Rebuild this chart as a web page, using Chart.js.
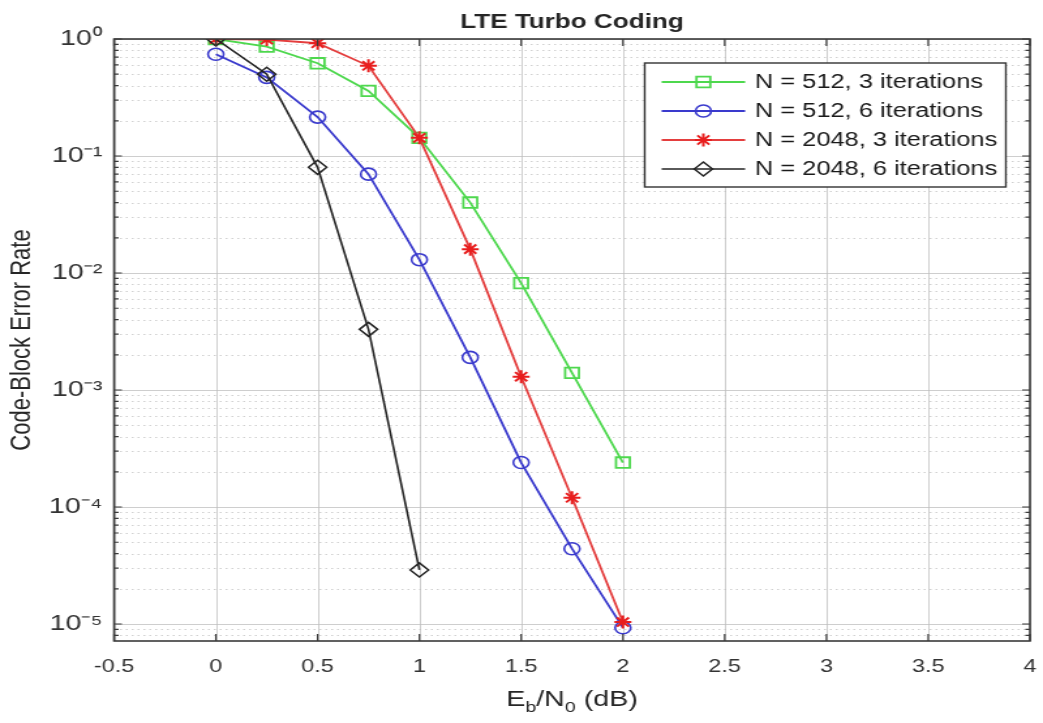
<!DOCTYPE html>
<html>
<head>
<meta charset="utf-8">
<script src="https://cdn.jsdelivr.net/npm/chart.js@4.4.1/dist/chart.umd.min.js"></script>
<style>
  html, body { margin: 0; padding: 0; background: #ffffff; }
  #c { display: block; width: 1043px; height: 723px; }
</style>
</head>
<body>
<canvas id="c" width="800" height="723" style="width:1043px;height:723px;"></canvas>
<script>
// ---- data ----
const ebn0 = [0, 0.25, 0.5, 0.75, 1, 1.25, 1.5, 1.75, 2];
const ebn0Short = [0, 0.25, 0.5, 0.75, 1];
const n512it3 = [1.0, 0.86, 0.62, 0.36, 0.143, 0.040, 0.0082, 0.0014, 0.00024];
const n512it6 = [0.74, 0.47, 0.215, 0.070, 0.013, 0.0019, 0.00024, 0.000044, 0.0000093];
const n2048it3 = [1.0, 0.99, 0.92, 0.59, 0.143, 0.016, 0.0013, 0.00012, 0.0000104];
const n2048it6 = [1.0, 0.50, 0.080, 0.0033, 0.000029];
const seriesLabels = ['N = 512, 3 iterations', 'N = 512, 6 iterations', 'N = 2048, 3 iterations', 'N = 2048, 6 iterations'];
const xTickValues = [-0.5, 0, 0.5, 1, 1.5, 2, 2.5, 3, 3.5, 4];
const xTickLabels = ['-0.5', '0', '0.5', '1', '1.5', '2', '2.5', '3', '3.5', '4'];
const yTickValues = [1e-5, 1e-4, 1e-3, 1e-2, 1e-1, 1];
const yTickLabels = ['10\u207B\u2075', '10\u207B\u2074', '10\u207B\u00B3', '10\u207B\u00B2', '10\u207B\u00B9', '10\u2070'];
const chartTitle = 'LTE Turbo Coding';
const yAxisTitle = 'Code-Block Error Rate';

const FONT = '"Liberation Sans", Arial, Helvetica, sans-serif';

function pts(xs, ys) { return xs.map((x, i) => ({ x: x, y: ys[i] })); }

const colGreen = 'rgb(78,216,78)';
const colBlue = 'rgb(58,58,205)';
const colRed = 'rgb(228,62,62)';
const colBlack = 'rgb(35,35,35)';

function drawMarker(ctx, style, r, x, y, color, bw) {
  ctx.save();
  ctx.strokeStyle = color;
  ctx.lineWidth = bw;
  if (Chart.helpers && Chart.helpers.drawPoint) {
    ctx.fillStyle = 'rgba(0,0,0,0)';
    Chart.helpers.drawPoint(ctx, { pointStyle: style, radius: r, rotation: 0, borderWidth: bw }, x, y);
  } else {
    ctx.beginPath();
    if (style === 'circle') ctx.arc(x, y, r, 0, Math.PI * 2);
    else if (style === 'rect') { const s = r * Math.SQRT1_2; ctx.rect(x - s, y - s, 2 * s, 2 * s); }
    else if (style === 'rectRot') { ctx.moveTo(x - r, y); ctx.lineTo(x, y - r); ctx.lineTo(x + r, y); ctx.lineTo(x, y + r); ctx.closePath(); }
    else if (style === 'star') {
      for (let k = 0; k < 4; k++) { const a = k * Math.PI / 4; ctx.moveTo(x - Math.cos(a) * r, y - Math.sin(a) * r); ctx.lineTo(x + Math.cos(a) * r, y + Math.sin(a) * r); }
    }
    ctx.stroke();
  }
  ctx.restore();
}

const decorPlugin = {
  id: 'decor',
  beforeDatasetsDraw(chart) {
    const ctx = chart.ctx;
    const a = chart.chartArea;
    const xs = chart.scales.x, ys = chart.scales.y;
    ctx.save();
    ctx.fillStyle = '#ffffff';
    ctx.fillRect(a.left, a.top, a.right - a.left, a.bottom - a.top);
    // minor horizontal grid (dotted)
    ctx.strokeStyle = 'rgba(150,150,150,0.45)';
    ctx.lineWidth = 1;
    ctx.setLineDash([1.5, 3]);
    for (let e = -6; e <= 0; e++) {
      for (let m = 2; m <= 9; m++) {
        const v = m * Math.pow(10, e);
        if (v < ys.min || v > ys.max) continue;
        const py = Math.round(ys.getPixelForValue(v)) + 0.5;
        ctx.beginPath(); ctx.moveTo(a.left, py); ctx.lineTo(a.right, py); ctx.stroke();
      }
    }
    ctx.setLineDash([]);
    // major grid
    ctx.strokeStyle = 'rgba(190,190,190,0.75)';
    ctx.lineWidth = 1;
    yTickValues.forEach(v => {
      const py = Math.round(ys.getPixelForValue(v)) + 0.5;
      ctx.beginPath(); ctx.moveTo(a.left, py); ctx.lineTo(a.right, py); ctx.stroke();
    });
    xTickValues.forEach(v => {
      const px = Math.round(xs.getPixelForValue(v)) + 0.5;
      ctx.beginPath(); ctx.moveTo(px, a.top); ctx.lineTo(px, a.bottom); ctx.stroke();
    });
    ctx.restore();
  },
  afterDatasetsDraw(chart) {
    const ctx = chart.ctx;
    const a = chart.chartArea;
    const xs = chart.scales.x, ys = chart.scales.y;
    ctx.save();
    // axes box
    ctx.strokeStyle = '#3a3a3a';
    ctx.lineWidth = 1.6;
    ctx.strokeRect(a.left, a.top, a.right - a.left, a.bottom - a.top);
    // tick marks (inward)
    ctx.lineWidth = 1.2;
    xTickValues.forEach(v => {
      const px = xs.getPixelForValue(v);
      ctx.beginPath(); ctx.moveTo(px, a.bottom); ctx.lineTo(px, a.bottom - 7);
      ctx.moveTo(px, a.top); ctx.lineTo(px, a.top + 7); ctx.stroke();
    });
    yTickValues.forEach(v => {
      const py = ys.getPixelForValue(v);
      ctx.beginPath(); ctx.moveTo(a.left, py); ctx.lineTo(a.left + 6, py);
      ctx.moveTo(a.right, py); ctx.lineTo(a.right - 6, py); ctx.stroke();
    });
    for (let e = -6; e <= 0; e++) {
      for (let m = 2; m <= 9; m++) {
        const v = m * Math.pow(10, e);
        if (v < ys.min || v > ys.max) continue;
        const py = ys.getPixelForValue(v);
        ctx.beginPath(); ctx.moveTo(a.left, py); ctx.lineTo(a.left + 3.5, py);
        ctx.moveTo(a.right, py); ctx.lineTo(a.right - 3.5, py); ctx.stroke();
      }
    }
    // title
    const cx = (a.left + a.right) / 2;
    ctx.fillStyle = '#262626';
    ctx.font = 'bold 20px ' + FONT;
    ctx.textAlign = 'center';
    ctx.textBaseline = 'alphabetic';
    ctx.fillText(chartTitle, cx, 28);
    // x-axis title with subscripts
    const bigFont = '22px ' + FONT;
    const subFont = '15px ' + FONT;
    const parts = [
      { t: 'E', f: bigFont, dy: 0 },
      { t: 'b', f: subFont, dy: 6 },
      { t: '/N', f: bigFont, dy: 0 },
      { t: '0', f: subFont, dy: 6 },
      { t: ' (dB)', f: bigFont, dy: 0 }
    ];
    let total = 0;
    parts.forEach(p => { ctx.font = p.f; p.w = ctx.measureText(p.t).width; total += p.w; });
    let px = cx - total / 2;
    ctx.textAlign = 'left';
    parts.forEach(p => { ctx.font = p.f; ctx.fillText(p.t, px, 706 + p.dy); px += p.w; });
    // y-axis title
    ctx.save();
    ctx.translate(17, (a.top + a.bottom) / 2);
    ctx.rotate(-Math.PI / 2);
    ctx.font = '22px ' + FONT;
    ctx.textAlign = 'center';
    ctx.textBaseline = 'middle';
    ctx.fillText(yAxisTitle, 0, 0);
    ctx.restore();
    // legend
    const bx0 = 494.5, bx1 = 771.5, by0 = 63, by1 = 187;
    ctx.fillStyle = '#ffffff';
    ctx.fillRect(bx0, by0, bx1 - bx0, by1 - by0);
    ctx.strokeStyle = '#333333';
    ctx.lineWidth = 1.4;
    ctx.strokeRect(bx0, by0, bx1 - bx0, by1 - by0);
    const rows = [82, 111, 140, 169];
    chart.data.datasets.forEach((ds, i) => {
      const ry = rows[i];
      ctx.strokeStyle = ds.borderColor;
      ctx.lineWidth = ds.borderWidth;
      ctx.beginPath(); ctx.moveTo(507.5, ry); ctx.lineTo(571.5, ry); ctx.stroke();
      drawMarker(ctx, ds.pointStyle, ds.pointRadius, 539.5, ry, ds.pointBorderColor, ds.pointBorderWidth);
      ctx.fillStyle = '#1a1a1a';
      ctx.font = '19.5px ' + FONT;
      ctx.textAlign = 'left';
      ctx.textBaseline = 'middle';
      ctx.fillText(ds.label, 579, ry + 1);
    });
    ctx.restore();
  }
};

const chart = new Chart(document.getElementById('c'), {
  type: 'line',
  data: {
    datasets: [
      { label: seriesLabels[0], data: pts(ebn0, n512it3), borderColor: colGreen, borderWidth: 1.8,
        pointStyle: 'rect', pointRadius: 7.5, pointBorderColor: colGreen, pointBorderWidth: 1.8,
        pointBackgroundColor: 'rgba(0,0,0,0)', order: 4 },
      { label: seriesLabels[1], data: pts(ebn0, n512it6), borderColor: colBlue, borderWidth: 1.8,
        pointStyle: 'circle', pointRadius: 6, pointBorderColor: colBlue, pointBorderWidth: 1.6,
        pointBackgroundColor: 'rgba(0,0,0,0)', order: 3 },
      { label: seriesLabels[2], data: pts(ebn0, n2048it3), borderColor: colRed, borderWidth: 1.8,
        pointStyle: 'star', pointRadius: 6.5, pointBorderColor: 'rgb(232,30,30)', pointBorderWidth: 2,
        pointBackgroundColor: 'rgba(0,0,0,0)', order: 2 },
      { label: seriesLabels[3], data: pts(ebn0Short, n2048it6), borderColor: colBlack, borderWidth: 1.6,
        pointStyle: 'rectRot', pointRadius: 7, pointBorderColor: colBlack, pointBorderWidth: 1.5,
        pointBackgroundColor: 'rgba(0,0,0,0)', order: 1 }
    ]
  },
  options: {
    responsive: false,
    maintainAspectRatio: false,
    devicePixelRatio: 1,
    animation: false,
    layout: { padding: { left: 0, right: 10, top: 39, bottom: 0 } },
    plugins: { legend: { display: false }, title: { display: false }, tooltip: { enabled: false } },
    elements: { line: { tension: 0 } },
    scales: {
      x: {
        type: 'linear', min: -0.5, max: 4,
        afterBuildTicks: s => { s.ticks = xTickValues.map(v => ({ value: v })); },
        afterFit: s => { s.height = 82; },
        grid: { display: true, drawOnChartArea: false, drawTicks: true, tickLength: 15, tickColor: 'rgba(0,0,0,0)', color: 'rgba(0,0,0,0)' },
        border: { display: false },
        ticks: {
          padding: 0, maxRotation: 0, autoSkip: false,
          color: '#333333', font: { family: FONT, size: 18 },
          callback: v => { const i = xTickValues.findIndex(t => Math.abs(t - v) < 1e-9); return i >= 0 ? xTickLabels[i] : ''; }
        }
      },
      y: {
        type: 'logarithmic', min: 7.16e-6, max: 1,
        afterBuildTicks: s => { s.ticks = yTickValues.map(v => ({ value: v })); },
        afterFit: s => { s.width = 87.5; },
        grid: { display: false, drawTicks: false },
        border: { display: false },
        ticks: {
          padding: 9, autoSkip: false,
          color: '#333333', font: { family: FONT, size: 22 },
          callback: v => { const i = yTickValues.findIndex(t => Math.abs(Math.log10(t) - Math.log10(v)) < 1e-6); return i >= 0 ? yTickLabels[i] : ''; }
        }
      }
    }
  },
  plugins: [decorPlugin]
});
</script>
</body>
</html>
